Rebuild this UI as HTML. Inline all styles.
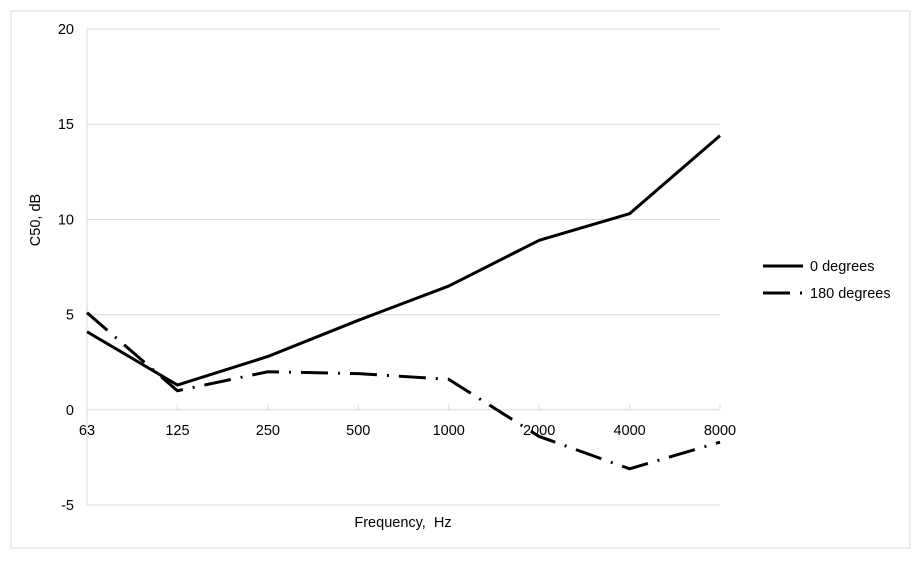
<!DOCTYPE html>
<html><head><meta charset="utf-8"><style>
body{margin:0;background:#fff;}
svg text{font-family:"Liberation Sans",sans-serif;font-size:14.5px;fill:#000;}
</style></head><body>
<svg width="923" height="556">
<rect x="11" y="11" width="899" height="537" fill="#fff" stroke="#d9d9d9"/>
<g id="grid"></g><g id="series"></g>
<text x="40" y="220" transform="rotate(-90 40 220)" text-anchor="middle">C50, dB</text>
<text x="403" y="527" text-anchor="middle">Frequency,&#160; Hz</text>
<g>
<line x1="763" y1="266" x2="803" y2="266" stroke="#000" stroke-width="3"/>
<text x="810" y="271">0 degrees</text>
<line x1="763" y1="293" x2="803" y2="293" stroke="#000" stroke-width="3" stroke-dasharray="27 10 2 10"/>
<text x="810" y="298">180 degrees</text>
</g>
</svg>
<script>
const categories=["63","125","250","500","1000","2000","4000","8000"];
const deg0=[4.1,1.3,2.8,4.7,6.5,8.9,10.3,14.4];
const deg180=[5.1,1.0,2.0,1.9,1.6,-1.4,-3.1,-1.7];
const yTicks=[-5,0,5,10,15,20];
const NS="http://www.w3.org/2000/svg";
const x0=87,x1=720,yTop=29,yBot=505;
function xs(i){return x0+i*(x1-x0)/(categories.length-1);}
function ys(v){return yBot-(v+5)*(yBot-yTop)/25;}
const grid=document.getElementById('grid'),ser=document.getElementById('series');
function mk(tag,attrs,p){const e=document.createElementNS(NS,tag);for(const k in attrs)e.setAttribute(k,attrs[k]);p.appendChild(e);return e;}
yTicks.forEach(v=>{
 if(v!==0){const l=mk('line',{x1:x0,x2:x1,y1:ys(v),y2:ys(v),stroke:'#d9d9d9'},grid);
 
 }
 const t=mk('text',{x:74,y:ys(v)+5,'text-anchor':'end'},grid);t.textContent=v;
 
 
});
const ya=mk('line',{x1:x0,x2:x0,y1:yTop,y2:yBot,stroke:'#d9d9d9'},grid);


const xa=mk('line',{x1:x0,x2:x1,y1:ys(0),y2:ys(0),stroke:'#d9d9d9'},grid);


categories.forEach((c,i)=>{
 const tk=mk('line',{x1:xs(i),x2:xs(i),y1:ys(0)-5,y2:ys(0),stroke:'#d9d9d9'},grid);
 
 
 const t=mk('text',{x:xs(i),y:ys(0)+25,'text-anchor':'middle'},grid);t.textContent=c;
 
 
});
function pts(a){return a.map((v,i)=>xs(i)+','+ys(v)).join(' ');}
const l0=mk('polyline',{points:pts(deg0),fill:'none',stroke:'#000','stroke-width':3,'stroke-linejoin':'round'},ser);


const l1=mk('polyline',{points:pts(deg180),fill:'none',stroke:'#000','stroke-width':3,'stroke-dasharray':'27 10 2 10'},ser);


</script>
</body></html>
